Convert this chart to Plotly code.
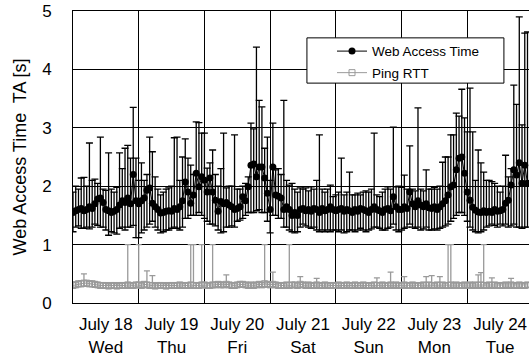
import plotly.graph_objects as go

# ---------------- data ----------------
day_labels = ["July 18", "July 19", "July 20", "July 21", "July 22", "July 23", "July 24"]
weekdays = ["Wed", "Thu", "Fri", "Sat", "Sun", "Mon", "Tue"]

# hourly samples, hours since July 18 00:00
hours = list(range(167))

web_mean = [
    1.55, 1.58, 1.60, 1.62, 1.58, 1.60, 1.65, 1.62, 1.70, 1.78, 1.80, 1.72, 1.60, 1.58, 1.55, 1.57, 1.60, 1.68, 1.75, 1.72, 1.80, 1.70, 2.20, 1.75,
    1.70, 1.75, 1.80, 1.93, 1.97, 1.71, 1.65, 1.60, 1.54, 1.55, 1.57, 1.58, 1.57, 1.62, 1.60, 1.65, 1.75, 2.07, 1.90, 1.71, 1.85, 2.22, 1.99, 2.16,
    2.10, 1.90, 2.14, 1.90, 1.76, 1.57, 1.74, 1.70, 1.72, 1.68, 1.65, 1.60, 1.62, 1.65, 1.82, 1.75, 1.99, 2.36, 2.38, 2.16, 2.33, 2.33, 2.14, 1.88,
    1.60, 2.33, 1.85, 1.83, 1.80, 1.60, 1.65, 1.60, 1.50, 1.55, 1.50, 1.60, 1.62, 1.58, 1.60, 1.57, 1.62, 1.60, 1.55, 1.62, 1.58, 1.60, 1.65, 1.60,
    1.58, 1.60, 1.62, 1.57, 1.60, 1.58, 1.55, 1.60, 1.57, 1.62, 1.60, 1.58, 1.55, 1.60, 1.65, 1.60, 1.58, 1.55, 1.60, 1.62, 1.58, 1.82, 1.65, 1.60,
    1.60, 1.65, 1.62, 1.90, 1.70, 1.65, 1.75, 1.68, 1.65, 1.70, 1.63, 1.62, 1.65, 1.60, 1.65, 1.70, 1.75, 1.85, 1.99, 2.02, 2.28, 2.48, 2.50, 2.22,
    1.90, 1.76, 1.64, 1.59, 1.56, 1.55, 1.58, 1.55, 1.57, 1.55, 1.60, 1.57, 1.58, 1.60, 1.71, 1.76, 2.02, 2.28, 2.19, 2.40, 2.05, 2.36, 2.05,
]
web_upper = [
    1.90, 2.00, 1.95, 2.14, 2.15, 2.00, 2.74, 2.10, 2.12, 2.05, 2.84, 1.95, 1.93, 2.57, 1.95, 1.90, 1.98, 2.57, 2.30, 2.65, 2.70, 2.48, 3.35, 2.48,
    2.10, 2.40, 2.10, 2.20, 2.84, 2.59, 2.16, 1.95, 1.85, 1.90, 1.95, 1.97, 2.00, 2.83, 2.84, 2.10, 2.50, 2.81, 2.48, 2.36, 2.20, 3.10, 3.09, 2.91,
    2.91, 2.31, 2.40, 2.62, 2.20, 2.00, 2.30, 2.91, 1.97, 2.00, 2.00, 2.88, 1.95, 1.95, 2.00, 2.05, 2.16, 3.08, 2.98, 4.38, 3.47, 3.36, 2.65, 2.84,
    2.10, 3.08, 2.28, 2.30, 2.20, 3.47, 2.10, 2.02, 2.05, 1.95, 1.90, 1.97, 1.95, 1.97, 1.92, 1.99, 1.95, 2.10, 2.88, 1.95, 1.90, 1.95, 2.02, 1.82,
    1.85, 1.90, 2.48, 1.85, 1.90, 2.24, 1.85, 1.85, 1.88, 1.85, 1.90, 1.92, 1.90, 1.95, 2.91, 1.85, 1.82, 1.90, 1.95, 1.99, 1.95, 3.01, 1.99, 2.00,
    1.98, 2.19, 1.95, 2.69, 1.95, 1.92, 3.34, 1.95, 1.92, 2.28, 1.95, 1.95, 1.98, 1.95, 2.00, 2.41, 2.50, 2.50, 2.88, 2.88, 3.25, 3.20, 3.66, 3.17,
    2.93, 3.68, 2.93, 2.10, 2.62, 2.40, 2.24, 2.10, 2.10, 2.08, 2.05, 2.00, 1.90, 2.00, 2.53, 2.16, 2.30, 3.73, 3.40, 4.90, 3.05, 4.62, 4.64,
]
web_lower = [
    1.22, 1.30, 1.32, 1.28, 1.28, 1.30, 1.27, 1.30, 1.35, 1.33, 1.30, 1.30, 1.25, 1.16, 1.22, 1.20, 1.18, 1.28, 1.30, 1.25, 1.30, 1.30, 1.33, 1.12,
    1.12, 1.20, 1.25, 1.30, 1.35, 1.40, 1.30, 1.25, 1.20, 1.22, 1.25, 1.25, 1.28, 1.30, 1.28, 1.25, 1.30, 1.45, 1.45, 1.50, 1.50, 1.50, 1.55, 1.50,
    1.45, 1.40, 1.35, 1.35, 1.32, 1.25, 1.20, 1.22, 1.30, 1.30, 1.32, 1.30, 1.40, 1.42, 1.45, 1.50, 1.55, 1.55, 1.55, 1.58, 1.60, 1.55, 1.55, 1.40,
    1.20, 1.50, 1.50, 1.45, 1.45, 1.30, 1.30, 1.25, 1.22, 1.20, 1.22, 1.30, 1.35, 1.32, 1.30, 1.28, 1.30, 1.25, 1.22, 1.25, 1.22, 1.25, 1.22, 1.25,
    1.25, 1.22, 1.25, 1.20, 1.22, 1.25, 1.25, 1.22, 1.25, 1.28, 1.25, 1.22, 1.25, 1.27, 1.30, 1.30, 1.28, 1.25, 1.25, 1.28, 1.30, 1.35, 1.25, 1.22,
    1.25, 1.28, 1.30, 1.35, 1.30, 1.28, 1.30, 1.25, 1.27, 1.30, 1.25, 1.25, 1.27, 1.25, 1.28, 1.30, 1.32, 1.35, 1.40, 1.45, 1.50, 1.55, 1.55, 1.50,
    1.40, 1.30, 1.25, 1.22, 1.20, 1.22, 1.25, 1.30, 1.32, 1.35, 1.33, 1.30, 1.35, 1.32, 1.35, 1.30, 1.32, 1.35, 1.30, 1.30, 1.28, 1.30, 1.30,
]

ping_mean = [
    0.30, 0.31, 0.33, 0.33, 0.34, 0.34, 0.33, 0.33, 0.32, 0.31, 0.30, 0.30, 0.30, 0.29, 0.30, 0.30, 0.29, 0.30, 0.30, 0.30, 0.31, 0.30, 0.30, 0.31,
    0.31, 0.30, 0.32, 0.31, 0.30, 0.30, 0.29, 0.30, 0.30, 0.30, 0.29, 0.30, 0.30, 0.30, 0.30, 0.31, 0.30, 0.30, 0.30, 0.31, 0.30, 0.30, 0.30, 0.31,
    0.31, 0.30, 0.30, 0.31, 0.31, 0.32, 0.31, 0.31, 0.32, 0.31, 0.30, 0.30, 0.31, 0.32, 0.32, 0.31, 0.30, 0.31, 0.30, 0.31, 0.32, 0.31, 0.33, 0.32,
    0.31, 0.32, 0.31, 0.30, 0.30, 0.30, 0.31, 0.30, 0.31, 0.31, 0.30, 0.32, 0.31, 0.30, 0.31, 0.30, 0.30, 0.31, 0.30, 0.30, 0.31, 0.30, 0.30, 0.30,
    0.30, 0.31, 0.30, 0.30, 0.31, 0.30, 0.30, 0.31, 0.30, 0.30, 0.31, 0.30, 0.30, 0.30, 0.31, 0.30, 0.30, 0.31, 0.30, 0.30, 0.31, 0.30, 0.31, 0.30,
    0.30, 0.31, 0.30, 0.30, 0.31, 0.30, 0.30, 0.30, 0.31, 0.30, 0.31, 0.30, 0.30, 0.31, 0.30, 0.31, 0.30, 0.30, 0.31, 0.30, 0.31, 0.30, 0.30, 0.31,
    0.30, 0.31, 0.30, 0.31, 0.30, 0.31, 0.30, 0.30, 0.31, 0.30, 0.31, 0.30, 0.30, 0.30, 0.31, 0.30, 0.31, 0.30, 0.30, 0.31, 0.30, 0.30, 0.31,
]
ping_upper = [
    0.35, 0.36, 0.37, 0.38, 0.50, 0.38, 0.37, 0.37, 0.36, 0.35, 0.35, 0.34, 0.34, 0.33, 0.34, 0.34, 0.33, 0.34, 0.34, 0.34, 1.00, 0.34, 0.34, 0.35,
    1.00, 0.34, 0.36, 0.55, 0.35, 0.47, 0.33, 0.34, 0.34, 0.34, 0.33, 0.34, 0.34, 0.34, 0.34, 0.35, 0.34, 0.34, 0.34, 1.00, 1.00, 0.34, 0.34, 1.00,
    0.35, 0.34, 0.34, 1.00, 0.35, 0.36, 0.35, 0.35, 0.48, 0.35, 0.34, 0.34, 0.35, 0.36, 0.36, 0.35, 0.34, 0.35, 0.34, 0.35, 0.36, 0.35, 1.00, 0.36,
    0.35, 0.53, 0.35, 0.34, 0.34, 0.34, 0.35, 1.00, 0.35, 0.35, 0.34, 0.45, 0.35, 0.34, 0.35, 0.34, 0.34, 0.42, 0.34, 0.34, 0.35, 0.34, 0.34, 0.34,
    0.34, 0.35, 0.34, 0.34, 0.35, 0.34, 0.34, 0.35, 0.34, 0.34, 0.35, 0.34, 0.34, 0.34, 0.35, 0.43, 0.34, 0.35, 0.34, 0.34, 0.53, 0.34, 0.35, 0.34,
    0.34, 0.45, 0.34, 0.34, 0.35, 0.34, 0.34, 0.34, 0.35, 0.45, 0.35, 0.47, 0.34, 0.35, 0.45, 0.35, 0.34, 1.00, 1.00, 0.34, 0.35, 0.34, 0.34, 0.35,
    0.34, 0.35, 0.34, 0.35, 0.48, 0.52, 1.00, 0.34, 0.35, 0.43, 0.35, 0.34, 0.34, 0.34, 0.35, 0.34, 0.42, 0.34, 0.34, 0.35, 0.34, 0.34, 0.35,
]
ping_lower = [
    0.26, 0.27, 0.28, 0.28, 0.29, 0.29, 0.28, 0.28, 0.27, 0.27, 0.26, 0.26, 0.26, 0.25, 0.26, 0.26, 0.25, 0.26, 0.26, 0.26, 0.27, 0.26, 0.26, 0.27,
    0.27, 0.26, 0.27, 0.27, 0.26, 0.26, 0.25, 0.26, 0.26, 0.26, 0.25, 0.26, 0.26, 0.26, 0.26, 0.27, 0.26, 0.26, 0.26, 0.27, 0.26, 0.26, 0.26, 0.27,
    0.27, 0.26, 0.26, 0.27, 0.27, 0.28, 0.27, 0.27, 0.28, 0.27, 0.26, 0.26, 0.27, 0.28, 0.28, 0.27, 0.26, 0.27, 0.26, 0.27, 0.28, 0.27, 0.28, 0.28,
    0.27, 0.28, 0.27, 0.26, 0.26, 0.26, 0.27, 0.26, 0.27, 0.27, 0.26, 0.27, 0.27, 0.26, 0.27, 0.26, 0.26, 0.27, 0.26, 0.26, 0.27, 0.26, 0.26, 0.26,
    0.26, 0.27, 0.26, 0.26, 0.27, 0.26, 0.26, 0.27, 0.26, 0.26, 0.27, 0.26, 0.26, 0.26, 0.27, 0.26, 0.26, 0.27, 0.26, 0.26, 0.27, 0.26, 0.27, 0.26,
    0.26, 0.27, 0.26, 0.26, 0.27, 0.26, 0.26, 0.26, 0.27, 0.26, 0.27, 0.26, 0.26, 0.27, 0.26, 0.27, 0.26, 0.26, 0.27, 0.26, 0.27, 0.26, 0.26, 0.27,
    0.26, 0.27, 0.26, 0.27, 0.26, 0.27, 0.26, 0.26, 0.27, 0.26, 0.27, 0.26, 0.26, 0.26, 0.27, 0.26, 0.27, 0.26, 0.26, 0.27, 0.26, 0.26, 0.27,
]

# ---------------- derived ----------------
web_up = [u - m for u, m in zip(web_upper, web_mean)]
web_dn = [m - l for m, l in zip(web_mean, web_lower)]
ping_up = [u - m for u, m in zip(ping_upper, ping_mean)]
ping_dn = [m - l for m, l in zip(ping_mean, ping_lower)]

tick_hours = [24 * i + 12 for i in range(len(day_labels))]
tick_text = [f"{d}<br>{w}" for d, w in zip(day_labels, weekdays)]
day_bounds = [24 * i for i in range(1, len(day_labels) + 1)]

FONT = "Liberation Sans, Arial, sans-serif"
GREY = "#9a9a9a"

fig = go.Figure()
fig.add_trace(go.Scatter(
    x=hours, y=web_mean, mode="lines+markers", name="Web Access Time",
    legendgroup="web",
    line=dict(color="black", width=1),
    marker=dict(symbol="circle", size=7, color="black"),
    error_y=dict(type="data", symmetric=False, array=web_up, arrayminus=web_dn,
                 color="black", thickness=1.3, width=3.5),
))
fig.add_trace(go.Scatter(
    x=hours, y=ping_mean, mode="lines+markers", name="Ping RTT",
    legendgroup="ping",
    line=dict(color=GREY, width=1),
    marker=dict(symbol="square-open", size=6, color=GREY, line=dict(width=1, color=GREY)),
    error_y=dict(type="data", symmetric=False, array=ping_up, arrayminus=ping_dn,
                 color=GREY, thickness=1.3, width=3),
))

# legend frame (paper coordinates)
fig.add_shape(type="rect", xref="paper", yref="paper",
              x0=0.513, x1=0.945, y0=0.753, y1=0.908,
              line=dict(color="black", width=1), fillcolor="white", layer="above")

fig.update_layout(
    width=529, height=360,
    margin=dict(l=73, r=0, t=11, b=57, autoexpand=False),
    paper_bgcolor="white", plot_bgcolor="white",
    font=dict(family=FONT, color="black"),
    showlegend=True,
    legend=dict(x=0.568, y=0.915, xanchor="left", yanchor="top",
                bgcolor="rgba(0,0,0,0)", borderwidth=0,
                font=dict(size=13.5, family=FONT), tracegroupgap=1),
    xaxis=dict(
        range=[0, 166.55], tickmode="array", tickvals=tick_hours, ticktext=tick_text,
        showgrid=False, zeroline=False,
        showline=True, linecolor="black", linewidth=1, mirror=True,
        ticks="outside", ticklen=6, tickcolor="rgba(0,0,0,0)",
        tickfont=dict(size=17),
        minor=dict(tickmode="array", tickvals=day_bounds, showgrid=True,
                   gridcolor="black", gridwidth=1, ticks=""),
    ),
    yaxis=dict(
        range=[0, 5], tick0=0, dtick=1,
        showgrid=True, gridcolor="black", gridwidth=1, zeroline=False,
        showline=True, linecolor="black", linewidth=1, mirror=False,
        ticks="outside", ticklen=17, tickcolor="rgba(0,0,0,0)",
        tickfont=dict(size=17),
        title=dict(text="Web Access Time\u00a0 TA [s]", font=dict(size=18), standoff=10),
    ),
)

# remove the browser's default 8px page margin so the figure sits at the window origin
fig.write_html("out.html", config={"displayModeBar": False},
               post_script="document.body.style.margin='0';")
